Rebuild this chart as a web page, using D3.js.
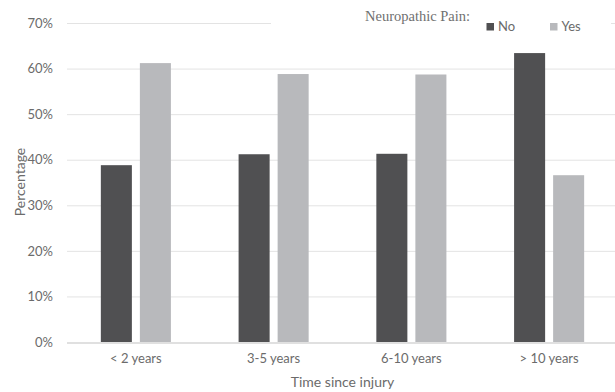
<!DOCTYPE html>
<html><head><meta charset="utf-8">
<script src="https://cdn.jsdelivr.net/npm/d3@7"></script>
<style>body{margin:0;background:#fff;}svg{display:block;}</style>
</head><body>
<svg id="c" width="615" height="392"></svg>
<script>
const categories = ["< 2 years", "3-5 years", "6-10 years", "> 10 years"];
const seriesNames = ["No", "Yes"];
const noValues = [38.8, 41.2, 41.3, 63.4];
const yesValues = [61.2, 58.8, 58.7, 36.6];
const yTicks = [0, 10, 20, 30, 40, 50, 60, 70];
const colors = {No: "#505052", Yes: "#b8b9bc"};
const SANS = "Lato, 'Open Sans', sans-serif";

const svg = d3.select("#c");
const m = {left: 67, right: -3, top: 23, bottom: 50};
const W = 615, H = 392;
const x = d3.scaleBand().domain(categories).range([m.left, W - m.right]);
const y = d3.scaleLinear().domain([0, 70]).range([342, 23]);
const xs = d3.scaleBand().domain(seriesNames).range([0, x.bandwidth()]).paddingInner(0.205).paddingOuter(0.867);

// gridlines
const grid = svg.append("g");
grid.selectAll("line").data(yTicks.filter(d => d > 0)).join("line")
  .attr("x1", m.left).attr("x2", W - m.right)
  .attr("y1", d => y(d) + 0.5).attr("y2", d => y(d) + 0.5)
  .attr("stroke", "#e3e3e3").attr("stroke-width", 1);

// bars
const rows = categories.map((c, i) => ({c, No: noValues[i], Yes: yesValues[i]}));
const g = svg.append("g");
g.selectAll("g").data(rows).join("g")
  .attr("transform", d => `translate(${x(d.c)},0)`)
  .selectAll("rect").data(d => seriesNames.map(s => ({s, v: d[s]}))).join("rect")
  .attr("x", d => xs(d.s)).attr("width", xs.bandwidth())
  .attr("y", d => y(d.v)).attr("height", d => y(0) - y(d.v))
  .attr("fill", d => colors[d.s]);

// baseline axis
svg.append("line").attr("x1", m.left).attr("x2", W - m.right)
  .attr("y1", y(0) + 1).attr("y2", y(0) + 1)
  .attr("stroke", "#d6d6d6").attr("stroke-width", 1.5);

// y tick labels
const yAxis = d3.axisLeft(y).tickValues(yTicks).tickFormat(d => d + "%").tickSize(0).tickPadding(14);
const ya = svg.append("g").attr("transform", `translate(${m.left},0)`).call(yAxis);
ya.select(".domain").remove();
ya.selectAll("text").attr("font-family", SANS).attr("font-size", 13).attr("fill", "#6b6b6b");

// x tick labels
const xAxis = d3.axisBottom(x).tickSize(0).tickPadding(12);
const xa = svg.append("g").attr("transform", `translate(0,${y(0)})`).call(xAxis);
xa.select(".domain").remove();
xa.selectAll("text").attr("font-family", SANS).attr("font-size", 13).attr("fill", "#6b6b6b");

// axis titles
svg.append("text").attr("x", (m.left + W - m.right) / 2).attr("y", 387)
  .attr("text-anchor", "middle").attr("font-family", SANS).attr("font-size", 14)
  .attr("fill", "#6b6b6b").text("Time since injury");
svg.append("text").attr("transform", "translate(24.5,182) rotate(-90)")
  .attr("text-anchor", "middle").attr("font-family", SANS).attr("font-size", 14)
  .attr("fill", "#6b6b6b").text("Percentage");

// legend
const lg = svg.append("g");
lg.append("rect").attr("x", 271).attr("y", 0).attr("width", 340).attr("height", 36).attr("fill", "#fff");
lg.append("text").attr("x", 365).attr("y", 21).attr("font-family", "Liberation Serif, serif").attr("font-size", 14.5)
  .attr("fill", "#707070").text("Neuropathic Pain:");
const legX = {No: 486.5, Yes: 550};
seriesNames.forEach(s => {
  lg.append("rect").attr("x", legX[s]).attr("y", 23).attr("width", 7.5).attr("height", 7.5).attr("fill", colors[s]);
  lg.append("text").attr("x", legX[s] + 11.5).attr("y", 31).attr("font-family", SANS)
    .attr("font-size", 13).attr("fill", "#6b6b6b").text(s);
});
</script>
</body></html>
